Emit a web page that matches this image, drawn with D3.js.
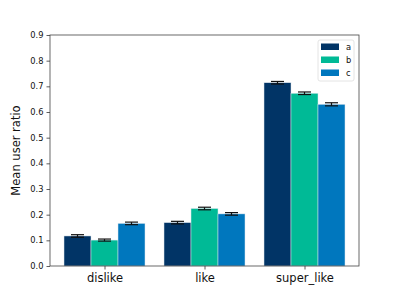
<!DOCTYPE html>
<html>
<head>
<script src="https://cdn.jsdelivr.net/npm/d3@7"></script>
<style>
  body { margin: 0; background: #fff; }
  text { font-family: "DejaVu Sans", sans-serif; }
</style>
</head>
<body>
<svg id="chart" width="399" height="299"></svg>
<script>
    // data
    const categories = ['dislike', 'like', 'super_like']
    const series = ['a', 'b', 'c']
    const colors = ['#013466', '#00ba96', '#0077be']
    const valuesA = [0.117, 0.169, 0.714]
    const valuesB = [0.101, 0.224, 0.673]
    const valuesC = [0.166, 0.203, 0.630]
    const errA = [0.005, 0.005, 0.005]
    const errB = [0.004, 0.005, 0.005]
    const errC = [0.005, 0.005, 0.006]
    const yTicks = [0, 0.1, 0.2, 0.3, 0.4, 0.5, 0.6, 0.7, 0.8, 0.9]

    const allVals = [valuesA, valuesB, valuesC]
    const allErr = [errA, errB, errC]

    const svg = d3.select('#chart')
    const m = {left: 50, right: 359, top: 35, bottom: 266}
    const barW = 0.27

    // matplotlib style: categories at 0,1,2, 5% margins
    const x = d3.scaleLinear().domain([-0.545, 2.545]).range([m.left, m.right])
    const y = d3.scaleLinear().domain([0, 0.9]).range([m.bottom, m.top])

    const bars = []
    allVals.forEach((vals, s) => {
        vals.forEach((v, i) => {
            bars.push({s: s, i: i, v: v, e: allErr[s][i], cx: i + (s - 1) * barW})
        })
    })

    svg.selectAll('rect.bar').data(bars).enter().append('rect')
        .attr('class', 'bar')
        .attr('x', d => x(d.cx - barW / 2))
        .attr('width', d => x(barW) - x(0))
        .attr('y', d => y(d.v))
        .attr('height', d => y(0) - y(d.v))
        .attr('fill', d => colors[d.s])
        .attr('stroke', '#dde6ee')
        .attr('stroke-width', 0.5)

    // error bars
    const eb = svg.selectAll('g.err').data(bars).enter().append('g')
        .attr('stroke', '#111').attr('stroke-width', 1.2)
    eb.append('line')
        .attr('x1', d => x(d.cx)).attr('x2', d => x(d.cx))
        .attr('y1', d => y(d.v - d.e)).attr('y2', d => y(d.v + d.e))
    eb.append('line')
        .attr('x1', d => x(d.cx) - 6.5).attr('x2', d => x(d.cx) + 6.5)
        .attr('y1', d => y(d.v + d.e)).attr('y2', d => y(d.v + d.e))
    eb.append('line')
        .attr('x1', d => x(d.cx) - 6.5).attr('x2', d => x(d.cx) + 6.5)
        .attr('y1', d => y(d.v - d.e)).attr('y2', d => y(d.v - d.e))

    // axes
    const yAxis = svg.append('g').attr('transform', `translate(${m.left},0)`)
        .call(d3.axisLeft(y).tickValues(yTicks).tickFormat(d3.format('.1f')).tickSize(3.5).tickPadding(3))
    yAxis.selectAll('text').attr('font-size', 8.3).attr('fill', '#111')

    const xAxis = svg.append('g').attr('transform', `translate(0,${m.bottom})`)
        .call(d3.axisBottom(x).tickValues([0, 1, 2]).tickFormat((d, i) => categories[i]).tickSize(3.5).tickPadding(4))
    xAxis.selectAll('text').attr('font-size', 11.5).attr('fill', '#111')

    svg.selectAll('.domain').remove()
    svg.selectAll('.tick line').attr('stroke', '#333').attr('stroke-width', 0.8)

    // frame
    svg.append('rect')
        .attr('x', m.left).attr('y', m.top)
        .attr('width', m.right - m.left).attr('height', m.bottom - m.top)
        .attr('fill', 'none').attr('stroke', '#444').attr('stroke-width', 0.8)

    svg.append('text')
        .attr('transform', `translate(20,${(m.top + m.bottom) / 2}) rotate(-90)`)
        .attr('text-anchor', 'middle')
        .attr('font-size', 11.5)
        .attr('fill', '#111')
        .text('Mean user ratio')

    // legend
    const lg = svg.append('g').attr('transform', 'translate(318,40)')
    lg.append('rect').attr('width', 36).attr('height', 41).attr('rx', 2)
        .attr('fill', '#fff').attr('stroke', '#ddd').attr('stroke-width', 0.8)
    series.forEach((s, k) => {
        lg.append('rect').attr('x', 3).attr('y', 3.5 + k * 13).attr('width', 18).attr('height', 6.5).attr('fill', colors[k])
        lg.append('text').attr('x', 28).attr('y', 10 + k * 13).attr('font-size', 8.3).attr('fill', '#111').text(s)
    })
</script>
</body>
</html>
